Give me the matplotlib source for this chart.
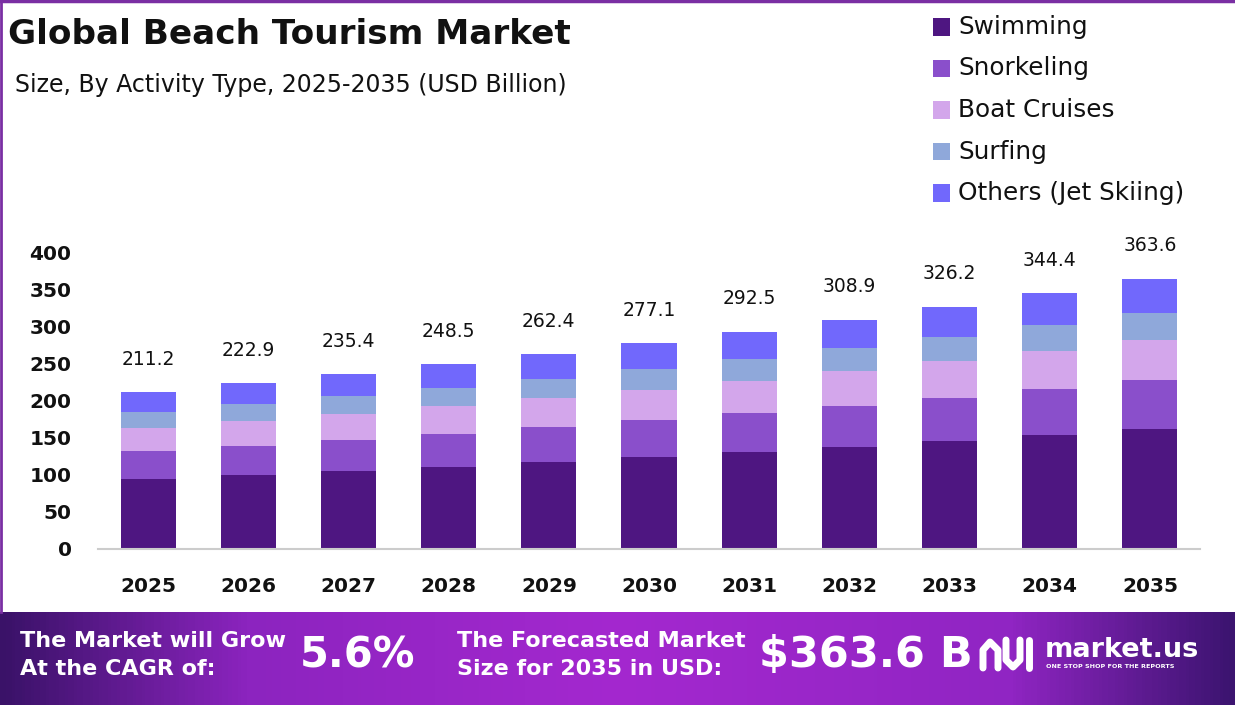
import numpy as np
import matplotlib
matplotlib.use("Agg")
import matplotlib.pyplot as plt
from matplotlib.colors import LinearSegmentedColormap
from matplotlib.patches import Rectangle
from matplotlib.lines import Line2D

years = ["2025", "2026", "2027", "2028", "2029", "2030",
         "2031", "2032", "2033", "2034", "2035"]
segments = ["Swimming", "Snorkeling", "Boat Cruises", "Surfing", "Others (Jet Skiing)"]
swimming = [94.7, 99.7, 105.5, 110.8, 117.2, 123.9, 130.6, 137.8, 145.5, 153.5, 161.6]
snorkeling = [37.7, 39.0, 41.3, 44.1, 47.1, 49.8, 52.6, 54.8, 58.3, 62.0, 66.0]
boat_cruises = [31.0, 34.1, 35.4, 38.1, 39.1, 40.4, 43.5, 47.1, 49.4, 51.6, 54.3]
surfing = [21.1, 22.5, 23.9, 23.8, 25.6, 28.3, 29.2, 31.0, 32.3, 34.6, 36.4]
others = [26.7, 27.6, 29.3, 31.7, 33.4, 34.7, 36.6, 38.2, 40.7, 42.7, 45.3]
colors = ["#4e1681", "#8a4fcb", "#d3a6eb", "#8fa8da", "#7168fc"]

cagr = "5.6%"
forecast = "$363.6 B"

W, H = 1235, 705
FONT = "DejaVu Sans"


def fx(x):
    return x / W


def fy(y):
    return 1 - y / H


fig = plt.figure(figsize=(W / 100, H / 100), dpi=100)
fig.patch.set_facecolor("white")

# main plot
ax = fig.add_axes([fx(98), fy(549), fx(1200) - fx(98), fy(252) - fy(549)])
x = np.arange(len(years))
bottom = np.zeros(len(years))
for name, vals, col in zip(segments, [swimming, snorkeling, boat_cruises, surfing, others], colors):
    ax.bar(x, vals, width=0.55, bottom=bottom, color=col, label=name, zorder=2)
    bottom += np.array(vals)

for xi, tot in zip(x, bottom):
    ax.annotate(f"{tot:.1f}", (xi, tot), xytext=(0, 17), textcoords="offset points",
                ha="center", va="bottom", fontsize=13.5, family=FONT,
                color="#111111", annotation_clip=False)

ax.set_xlim(-0.5, len(years) - 0.5)
ax.set_ylim(0, 400)
ax.set_yticks(range(0, 401, 50))
ax.set_xticks(x)
ax.set_xticklabels(years)
for lab in ax.get_xticklabels() + ax.get_yticklabels():
    lab.set_fontweight("bold")
    lab.set_fontsize(14.5)
    lab.set_family(FONT)
    lab.set_color("#111111")
ax.tick_params(axis="both", length=0)
ax.tick_params(axis="y", pad=19)
ax.tick_params(axis="x", pad=20)
for s in ["top", "right", "left"]:
    ax.spines[s].set_visible(False)
ax.spines["bottom"].set_color("#cccccc")
ax.spines["bottom"].set_linewidth(1.5)
ax.set_facecolor("white")

# titles
fig.text(fx(8), fy(35), "Global Beach Tourism Market", fontsize=24.7, fontweight="bold",
         family=FONT, va="center", ha="left", color="#111111")
fig.text(fx(15), fy(85), "Size, By Activity Type, 2025-2035 (USD Billion)", fontsize=17,
         family=FONT, va="center", ha="left", color="#111111")

# legend
for i, (name, col) in enumerate(zip(segments, colors)):
    yc = 27 + i * 41.5
    fig.add_artist(Rectangle((fx(933), fy(yc + 8.5)), fx(17), fy(0) - fy(17),
                             facecolor=col, edgecolor="none", transform=fig.transFigure))
    fig.text(fx(958), fy(yc), name, fontsize=17.8, family=FONT, va="center", ha="left",
             color="#111111")

# frame lines
fig.add_artist(Line2D([0, 1], [fy(1), fy(1)], color="#7a2fa3", lw=2.5, transform=fig.transFigure))
fig.add_artist(Line2D([fx(1), fx(1)], [fy(0), fy(612)], color="#7a2fa3", lw=2, transform=fig.transFigure))

# bottom banner
bax = fig.add_axes([0, 0, 1, fy(612)])
cmap = LinearSegmentedColormap.from_list(
    "banner", [(0, "#3a1268"), (0.2, "#8c24bf"), (0.5, "#a428cf"),
               (0.82, "#9025c3"), (1, "#3c1470")])
bax.imshow(np.linspace(0, 1, 400)[None, :], aspect="auto", cmap=cmap, extent=[0, 1, 0, 1])
bax.set_axis_off()

fig.text(fx(20), fy(655), "The Market will Grow\nAt the CAGR of:", fontsize=16,
         fontweight="bold", family=FONT, color="white", va="center", ha="left", linespacing=1.45)
fig.text(fx(300), fy(655), cagr, fontsize=30, fontweight="semibold", family=FONT,
         color="white", va="center", ha="left")
fig.text(fx(457), fy(655), "The Forecasted Market\nSize for 2035 in USD:", fontsize=16,
         fontweight="bold", family=FONT, color="white", va="center", ha="left", linespacing=1.45)
fig.text(fx(759), fy(655), forecast, fontsize=31, fontweight="semibold", family=FONT,
         color="white", va="center", ha="left")

# logo
icon = [([983, 983, 990, 998, 998], [668, 650, 642, 650, 668]),
        ([1006, 1006, 1013, 1020, 1020], [640, 660, 667, 660, 640]),
        ([1029, 1029], [640, 668])]
for xs, ys in icon:
    fig.add_artist(Line2D([fx(v) for v in xs], [fy(v) for v in ys], color="white", lw=5,
                          solid_capstyle="round", transform=fig.transFigure))
fig.text(fx(1045), fy(650), "market.us", fontsize=19.5, fontweight="bold", family=FONT,
         color="white", va="center", ha="left")
fig.text(fx(1046), fy(667), "ONE STOP SHOP FOR THE REPORTS", fontsize=4.6, fontweight="bold",
         family=FONT, color="white", va="center", ha="left")

fig.savefig("out.png", dpi=100)
